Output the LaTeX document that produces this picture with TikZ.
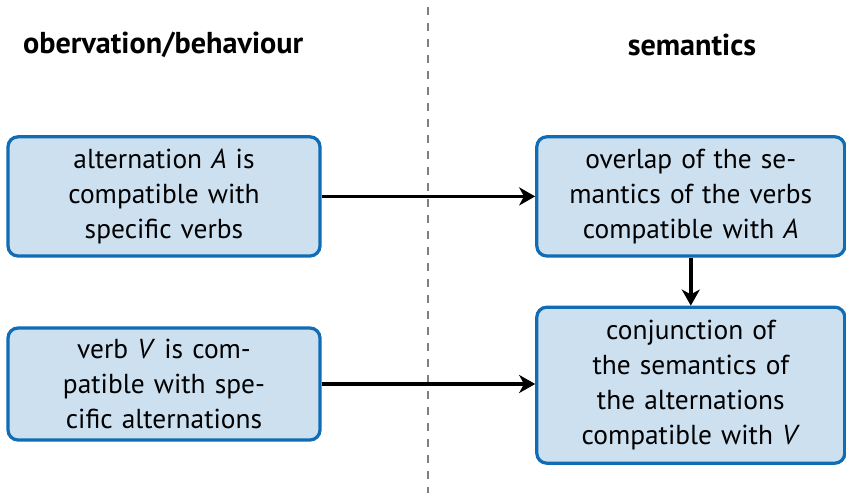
\documentclass[tikz,border=0pt]{standalone}
\usepackage{fontspec}
\setmainfont{PT Sans}
\usepackage{tikz}
\usetikzlibrary{positioning}
\usetikzlibrary{arrows.meta}

\definecolor{boxfill}{RGB}{204,224,240}
\definecolor{boxline}{RGB}{16,108,180}

\tikzset{
    step box/.style={draw=boxline, fill=boxfill, line width=2.3pt, rounded corners=0.25cm,
        text width=7.2cm, align=center, inner sep=4pt, font=\fontsize{19.5}{24.8}\selectfont},
    head/.style={font=\fontsize{21.5}{24}\selectfont\bfseries},
}

\begin{document}
\begin{tikzpicture}[>={Stealth[length=0.4cm, width=0.45cm, inset=0.12cm]}]
        \useasboundingbox (0, 0) rectangle (21.15, -12.325);
        \node(obs) [head] at (4.08, -1.12) {obervation/behaviour};
        \node(sem) [head] at (17.3, -1.12) {semantics};
        \node(altA) [step box, minimum width=7.8cm, minimum height=2.98cm] at (4.1, -4.91) {alternation \textit{A} is\\ compatible with\\ specific verbs};
        \node(verbV) [step box, minimum width=7.8cm, minimum height=2.8cm] at (4.1, -9.6) {verb \textit{V} is com-\\ patible with spe-\\ cific alternations};
        \node(overlap) [step box, minimum width=7.7cm, minimum height=2.98cm] at (17.27, -4.91) {overlap of the se-\\ mantics of the verbs\\ compatible with \textit{A}};
        \node(conj) [step box, minimum width=7.7cm, minimum height=3.9cm] at (17.27, -9.63) {conjunction of\\ the semantics of\\ the alternations\\ compatible with \textit{V}};
        \coordinate(top) at (10.7, -0.18);
        \coordinate(bottom) at (10.7, -12.325);
        \draw[gray, line width=1.2pt, dash pattern=on 0.2cm off 0.2cm] (top) -- (bottom);
        \draw[->, line width=2.6pt] (altA) -- (overlap);
        \draw[->, line width=2.6pt] (verbV) -- (verbV -| conj.west);
        \draw[->, line width=2.6pt] (overlap) -- (conj);
    \end{tikzpicture}
\end{document}
